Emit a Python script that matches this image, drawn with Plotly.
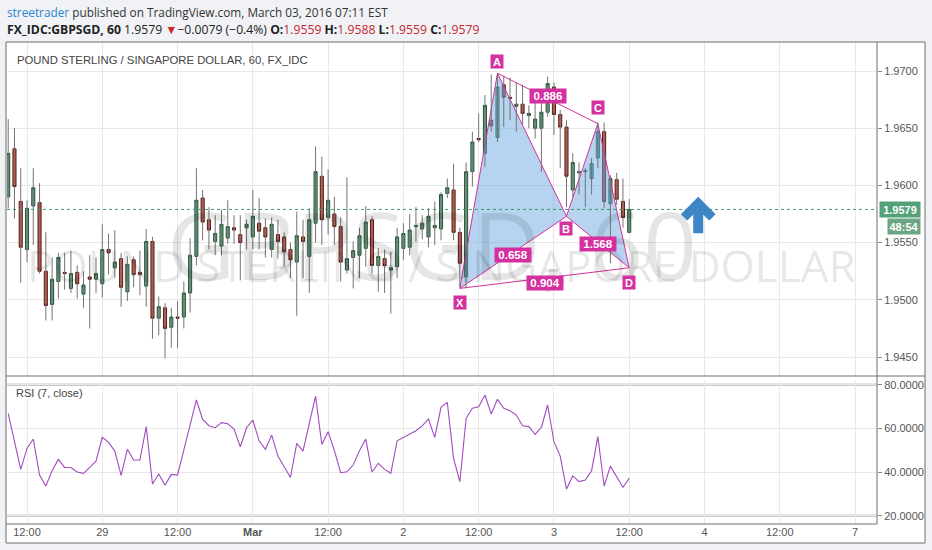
import plotly.graph_objects as go

# ---------------- data ----------------
opens = [1.9590, 1.9632, 1.9586, 1.9544, 1.9582, 1.9585, 1.9525, 1.9496, 1.9516, 1.9524,
         1.9510, 1.9524, 1.9505, 1.9520, 1.9518, 1.9514, 1.9544, 1.9528, 1.9536, 1.9507,
         1.9535, 1.9524, 1.9512, 1.9551, 1.9484, 1.9493, 1.9476, 1.9485, 1.9485, 1.9506,
         1.9538, 1.9589, 1.9570, 1.9551, 1.9547, 1.9554, 1.9563, 1.9557, 1.9563, 1.9555,
         1.9567, 1.9563, 1.9544, 1.9557, 1.9555, 1.9544, 1.9533, 1.9555, 1.9538, 1.9567,
         1.9608, 1.9572, 1.9575, 1.9564, 1.9526, 1.9537, 1.9539, 1.9545, 1.9570, 1.9530,
         1.9536, 1.9526, 1.9529, 1.9545, 1.9546, 1.9564, 1.9562, 1.9555, 1.9563, 1.9562,
         1.9593, 1.9596, 1.9559, 1.9520, 1.9612, 1.9641, 1.9628, 1.9657, 1.9642, 1.9688,
         1.9677, 1.9669, 1.9671, 1.9661, 1.9650, 1.9650, 1.9664, 1.9686, 1.9662, 1.9651,
         1.9596, 1.9611, 1.9612, 1.9606, 1.9624, 1.9647, 1.9584, 1.9605, 1.9586, 1.9559]
highs = [1.9658, 1.9650, 1.9615, 1.9587, 1.9615, 1.9602, 1.9559, 1.9537, 1.9541, 1.9541,
         1.9543, 1.9530, 1.9525, 1.9539, 1.9537, 1.9566, 1.9558, 1.9561, 1.9541, 1.9538,
         1.9538, 1.9543, 1.9562, 1.9555, 1.9503, 1.9497, 1.9493, 1.9499, 1.9516, 1.9554,
         1.9615, 1.9596, 1.9581, 1.9574, 1.9579, 1.9587, 1.9574, 1.9574, 1.9570, 1.9596,
         1.9589, 1.9571, 1.9572, 1.9570, 1.9559, 1.9550, 1.9577, 1.9570, 1.9580, 1.9634,
         1.9625, 1.9614, 1.9590, 1.9572, 1.9607, 1.9551, 1.9563, 1.9582, 1.9573, 1.9545,
         1.9544, 1.9542, 1.9563, 1.9567, 1.9575, 1.9581, 1.9574, 1.9580, 1.9586, 1.9594,
         1.9606, 1.9619, 1.9563, 1.9620, 1.9647, 1.9663, 1.9679, 1.9697, 1.9698, 1.9696,
         1.9694, 1.9690, 1.9688, 1.9670, 1.9676, 1.9675, 1.9695, 1.9690, 1.9666, 1.9657,
         1.9628, 1.9620, 1.9615, 1.9624, 1.9655, 1.9655, 1.9609, 1.9611, 1.9606, 1.9588]
lows = [1.9580, 1.9571, 1.9515, 1.9533, 1.9548, 1.9523, 1.9482, 1.9482, 1.9501, 1.9509,
        1.9506, 1.9501, 1.9493, 1.9475, 1.9506, 1.9502, 1.9522, 1.9519, 1.9494, 1.9499,
        1.9511, 1.9504, 1.9494, 1.9466, 1.9469, 1.9449, 1.9458, 1.9458, 1.9475, 1.9489,
        1.9530, 1.9552, 1.9544, 1.9539, 1.9539, 1.9549, 1.9549, 1.9517, 1.9544, 1.9544,
        1.9544, 1.9537, 1.9537, 1.9536, 1.9529, 1.9519, 1.9486, 1.9519, 1.9506, 1.9550,
        1.9548, 1.9557, 1.9548, 1.9516, 1.9523, 1.9510, 1.9519, 1.9529, 1.9523, 1.9507,
        1.9506, 1.9488, 1.9519, 1.9535, 1.9539, 1.9551, 1.9553, 1.9546, 1.9548, 1.9552,
        1.9589, 1.9552, 1.9511, 1.9510, 1.9599, 1.9638, 1.9616, 1.9647, 1.9638, 1.9651,
        1.9657, 1.9647, 1.9653, 1.9650, 1.9641, 1.9612, 1.9660, 1.9644, 1.9615, 1.9581,
        1.9590, 1.9592, 1.9581, 1.9592, 1.9615, 1.9580, 1.9532, 1.9583, 1.9563, 1.9559]
closes = [1.9628, 1.9599, 1.9546, 1.9580, 1.9598, 1.9525, 1.9495, 1.9518, 1.9537, 1.9523,
          1.9523, 1.9514, 1.9513, 1.9518, 1.9523, 1.9544, 1.9541, 1.9533, 1.9511, 1.9531,
          1.9522, 1.9522, 1.9551, 1.9484, 1.9494, 1.9475, 1.9485, 1.9484, 1.9506, 1.9539,
          1.9587, 1.9568, 1.9561, 1.9558, 1.9566, 1.9564, 1.9561, 1.9550, 1.9566, 1.9573,
          1.9560, 1.9555, 1.9566, 1.9551, 1.9542, 1.9535, 1.9556, 1.9551, 1.9570, 1.9612,
          1.9570, 1.9587, 1.9564, 1.9533, 1.9536, 1.9543, 1.9556, 1.9568, 1.9530, 1.9538,
          1.9530, 1.9528, 1.9555, 1.9558, 1.9561, 1.9565, 1.9567, 1.9573, 1.9565, 1.9592,
          1.9598, 1.9559, 1.9532, 1.9612, 1.9638, 1.9640, 1.9670, 1.9652, 1.9686, 1.9677,
          1.9676, 1.9671, 1.9663, 1.9663, 1.9658, 1.9664, 1.9689, 1.9662, 1.9651, 1.9608,
          1.9620, 1.9612, 1.9613, 1.9619, 1.9647, 1.9586, 1.9606, 1.9588, 1.9572, 1.9579]
rsi = [66.9, 54.0, 41.2, 50.8, 55.1, 38.6, 33.6, 40.6, 45.8, 42.1,
       42.1, 40.0, 39.4, 42.1, 45.0, 55.9, 53.6, 49.6, 38.5, 50.4,
       45.5, 45.5, 60.8, 34.5, 39.1, 33.9, 38.9, 38.6, 50.1, 61.5,
       73.0, 64.1, 61.2, 60.3, 62.6, 62.1, 59.7, 51.6, 60.3, 63.8,
       54.3, 50.4, 56.9, 47.3, 42.1, 37.5, 53.1, 49.6, 62.3, 74.8,
       52.6, 58.5, 49.8, 39.7, 40.1, 43.2, 49.8, 55.1, 40.0, 44.0,
       41.2, 39.4, 54.3, 55.9, 57.4, 58.9, 61.1, 64.3, 55.9, 69.6,
       71.9, 46.3, 35.6, 64.6, 69.2, 69.9, 75.3, 66.6, 73.3, 69.2,
       68.1, 66.1, 61.2, 60.8, 57.2, 60.5, 70.7, 53.9, 47.3, 32.2,
       38.2, 35.6, 36.3, 40.6, 56.2, 33.6, 42.7, 37.9, 33.0, 37.1]

tick_idx = [3, 15, 27, 39, 51, 63, 75, 87, 99, 111, 123, 135]
tick_text = ["12:00", "29", "12:00", "<b>Mar</b>", "12:00", "2", "12:00", "3",
             "12:00", "4", "12:00", "7"]
price_ticks = [1.9450, 1.9500, 1.9550, 1.9600, 1.9650, 1.9700]
rsi_ticks = [20, 40, 60, 80]

# harmonic pattern points
pat_names = ["X", "A", "B", "C", "D"]
pat_idx = [72, 78, 89, 94, 99]
pat_price = [1.9510, 1.9698, 1.9573, 1.9654, 1.9528]
ratio_pairs = [("X", "B"), ("A", "C"), ("B", "D"), ("X", "D")]
ratio_text = ["0.658", "0.886", "1.568", "0.904"]

signal_idx = 110
signal_price = 1.9574

last_close = closes[-1]
countdown = "48:54"

# ---------------- geometry / style ----------------
W, H = 932, 550
ML, MR, MT, MB = 7, 55, 42, 26
PW, PH = W - ML - MR, H - MT - MB


def px(x):
    return (x - ML) / PW


def py(y):
    return (H - MB - y) / PH


UP, DN = "#6ba583", "#d75442"
UP_B, DN_B = "#225437", "#5b1a13"
WICK = "#737375"
PINK = "#d4309f"
FILL = "rgba(110,170,225,0.50)"
GRID = "#e8e8e8"
FRAME = "#6e6e6e"
AXF = "Liberation Sans, Arial, sans-serif"
HDF = "Open Sans, Liberation Sans, sans-serif"

n = len(opens)
xs = list(range(n))
pt = {nm: (i, p) for nm, i, p in zip(pat_names, pat_idx, pat_price)}

fig = go.Figure()

# pattern triangles (below candles)
for tri in [("X", "A", "B"), ("B", "C", "D")]:
    fig.add_trace(go.Scatter(
        x=[pt[t][0] for t in tri] + [pt[tri[0]][0]],
        y=[pt[t][1] for t in tri] + [pt[tri[0]][1]],
        mode="lines", fill="toself", fillcolor=FILL,
        line=dict(color=PINK, width=1), hoverinfo="skip"))
for a, b in [("X", "D"), ("A", "C")]:
    fig.add_trace(go.Scatter(x=[pt[a][0], pt[b][0]], y=[pt[a][1], pt[b][1]],
                             mode="lines", line=dict(color=PINK, width=1),
                             hoverinfo="skip"))

# wicks
wx, wy = [], []
for i, (h, l) in enumerate(zip(highs, lows)):
    wx += [i, i, None]
    wy += [h, l, None]
fig.add_trace(go.Scatter(x=wx, y=wy, mode="lines",
                         line=dict(color=WICK, width=1), hoverinfo="skip"))

# bodies
fig.add_trace(go.Candlestick(
    x=xs, open=opens, close=closes,
    high=[max(o, c) for o, c in zip(opens, closes)],
    low=[min(o, c) for o, c in zip(opens, closes)],
    increasing=dict(fillcolor=UP, line=dict(color=UP_B, width=1)),
    decreasing=dict(fillcolor=DN, line=dict(color=DN_B, width=1)),
    whiskerwidth=0, xaxis="x", yaxis="y"))

# RSI
fig.add_trace(go.Scatter(x=xs, y=rsi, mode="lines", xaxis="x", yaxis="y2",
                         line=dict(color="#a24bbf", width=1.1), hoverinfo="skip"))

shapes = []
# white chart frame background
shapes.append(dict(type="rect", xref="paper", yref="paper", x0=px(6), x1=px(925),
                   y0=py(543), y1=py(42), fillcolor="white", line=dict(width=0),
                   layer="below"))
# RSI bands
for v in (80, 20):
    shapes.append(dict(type="line", xref="paper", yref="y2", x0=0, x1=1, y0=v, y1=v,
                       line=dict(color="#c9c9c9", width=2.5), layer="below"))
# last price dotted line
shapes.append(dict(type="line", xref="paper", yref="y", x0=0, x1=1, y0=last_close,
                   y1=last_close, line=dict(color="#3f9a6c", width=1, dash="dot"),
                   layer="above"))
# frame lines
frame = [(6, 42, 925, 42), (6, 42, 6, 543), (925, 42, 925, 543), (6, 543, 925, 543),
         (6, 376, 925, 376), (877, 42, 877, 524), (6, 524, 877, 524)]
for x0, y0, x1, y1 in frame:
    shapes.append(dict(type="line", xref="paper", yref="paper", x0=px(x0), x1=px(x1),
                       y0=py(y0), y1=py(y1), line=dict(color=FRAME, width=1),
                       layer="above"))
# blue up arrow signal
shapes.append(dict(type="path", xref="x", yref="y", xsizemode="pixel", ysizemode="pixel",
                   xanchor=signal_idx, yanchor=signal_price,
                   path="M 0 17 L 16 1 L 11 -4 L 4 3 L 4 -17 L -4 -17 L -4 3 L -11 -4 L -16 1 Z",
                   fillcolor="#3d86c6", line=dict(color="#3d86c6", width=2)))

ann = []
# watermarks
ann.append(dict(xref="paper", yref="paper", x=px(432), y=py(178), text="GBPSGD, 60",
                showarrow=False, font=dict(family=HDF, size=94, color="rgba(0,0,0,0.10)")))
ann.append(dict(xref="paper", yref="paper", x=px(441), y=py(265),
                text="POUND STERLING / SINGAPORE DOLLAR", showarrow=False,
                font=dict(family=HDF, size=44, color="rgba(0,0,0,0.10)")))
# header
ann.append(dict(xref="paper", yref="paper", x=px(5), y=py(12), xanchor="left",
                yanchor="middle", showarrow=False,
                text="<span style='color:#2a86d0'>streetrader</span> published on "
                     "TradingView.com, March 03, 2016 07:11 EST",
                font=dict(family=HDF, size=11.8, color="#333333")))
red = "#c8282e"
hdr2 = ("<b>FX_IDC:GBPSGD, 60</b> 1.9579 "
        f"<span style='color:{red}'>▼</span>−0.0079 (−0.4%) "
        f"<b>O:</b><span style='color:{red}'>1.9559</span> "
        f"<b>H:</b><span style='color:{red}'>1.9588</span> "
        f"<b>L:</b><span style='color:{red}'>1.9559</span> "
        f"<b>C:</b><span style='color:{red}'>1.9579</span>")
ann.append(dict(xref="paper", yref="paper", x=px(5), y=py(29), xanchor="left",
                yanchor="middle", showarrow=False, text=hdr2,
                font=dict(family=HDF, size=12.2, color="#222222")))
# chart title and RSI label
ann.append(dict(xref="paper", yref="paper", x=px(15), y=py(60), xanchor="left",
                yanchor="middle", showarrow=False,
                text="POUND STERLING / SINGAPORE DOLLAR, 60, FX_IDC",
                font=dict(family=AXF, size=11.3, color="#444444")))
ann.append(dict(xref="paper", yref="paper", x=px(14), y=py(393), xanchor="left",
                yanchor="middle", showarrow=False, text="RSI (7, close)",
                font=dict(family=AXF, size=11, color="#444444")))
# pattern point labels
pt_shift = {"X": -14, "A": 12, "B": -12, "C": 16, "D": -15}
for nm in pat_names:
    i, p = pt[nm]
    ann.append(dict(x=i, y=p, xref="x", yref="y", text=f"<b>{nm}</b>", showarrow=False,
                    yshift=pt_shift[nm], bgcolor=PINK, width=12, height=13, borderpad=0,
                    font=dict(family=AXF, size=11, color="white")))
# ratio labels at segment midpoints
r_shift = [-3, 2, -2, -5]
for (a, b), t, s in zip(ratio_pairs, ratio_text, r_shift):
    ann.append(dict(x=(pt[a][0] + pt[b][0]) / 2, y=(pt[a][1] + pt[b][1]) / 2,
                    xref="x", yref="y", text=f"<b>{t}</b>", showarrow=False, yshift=s,
                    bgcolor=PINK, width=36, height=14, borderpad=0,
                    font=dict(family=AXF, size=11.5, color="white")))
# price label and countdown
ann.append(dict(xref="paper", yref="y", x=px(879), y=last_close, xanchor="left",
                showarrow=False, text=f"<b>{last_close:.4f}</b>", bgcolor="#54a077",
                width=40, height=15, borderpad=0,
                font=dict(family=AXF, size=11, color="white")))
ann.append(dict(xref="paper", yref="y", x=px(887), y=last_close, xanchor="left",
                yshift=-17, showarrow=False, text=f"<b>{countdown}</b>", bgcolor="#6ba583",
                width=32, height=15, borderpad=0,
                font=dict(family=AXF, size=11, color="white")))

fig.update_layout(
    width=W, height=H,
    margin=dict(l=ML, r=MR, t=MT, b=MB, autoexpand=False),
    paper_bgcolor="#f0f2f5", plot_bgcolor="white", showlegend=False,
    shapes=shapes, annotations=ann,
    xaxis=dict(range=[-0.19, 138.5], anchor="y2", tickmode="array", tickvals=tick_idx,
               ticktext=tick_text, showgrid=True, gridcolor=GRID, zeroline=False,
               showline=False, ticks="", tickfont=dict(family=AXF, size=11, color="#555555"),
               rangeslider=dict(visible=False), fixedrange=True),
    yaxis=dict(domain=[py(376), 1], range=[1.943343, 1.972535], side="right", anchor="x",
               tickmode="array", tickvals=price_ticks, tickformat=".4f", ticks="outside",
               ticklen=4, tickcolor="#888888", showline=False, gridcolor=GRID,
               zeroline=False, tickfont=dict(family=AXF, size=11, color="#555555"),
               fixedrange=True),
    yaxis2=dict(domain=[0, py(380)], range=[16.2, 82.15], side="right", anchor="x",
                tickmode="array", tickvals=rsi_ticks, tickformat=".4f", ticks="outside",
                ticklen=4, tickcolor="#888888", showline=False, gridcolor=GRID,
                zeroline=False, tickfont=dict(family=AXF, size=11, color="#555555"),
                fixedrange=True),
)

fig.write_html("out.html", config={"displayModeBar": False},
               post_script="document.body.style.margin='0';"
                           "document.body.style.overflow='hidden';")
